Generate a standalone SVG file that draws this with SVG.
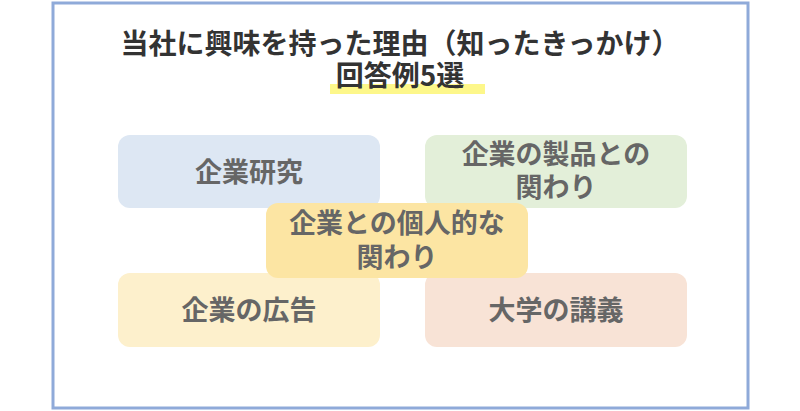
<svg xmlns="http://www.w3.org/2000/svg" width="800" height="411" viewBox="0 0 800 411">
<style>
.t{font-family:"Noto Sans CJK JP","Noto Sans",sans-serif;font-weight:bold;fill:#333;font-size:28px;text-anchor:middle}
.n{font-family:"Noto Sans CJK JP","Noto Sans",sans-serif;font-weight:bold;fill:#666;font-size:27px;text-anchor:middle}
</style>
<rect x="0" y="0" width="800" height="411" fill="#fff"/>
<rect x="53" y="3" width="695" height="405" fill="#fff" stroke="#8faad9" stroke-width="3"/>
<rect x="330" y="84" width="155" height="10" fill="#fdf78a"/>
<text class="t" x="400" y="54">当社に興味を持った理由（知ったきっかけ）</text>
<text class="t" x="400" y="86">回答例5選</text>
<g id="n1"><rect x="118" y="135" width="262" height="73" rx="12" fill="#dde7f3"/><text class="n" x="249" y="182">企業研究</text></g>
<g id="n2"><rect x="425" y="135" width="262" height="73" rx="12" fill="#e3efd9"/><text class="n" x="556" y="164">企業の製品との</text><text class="n" x="556" y="197">関わり</text></g>
<g id="n4"><rect x="118" y="273" width="262" height="74" rx="12" fill="#fdf0cc"/><text class="n" x="249" y="320">企業の広告</text></g>
<g id="n5"><rect x="425" y="273" width="262" height="74" rx="12" fill="#f8e3d6"/><text class="n" x="556" y="320">大学の講義</text></g>
<g id="n3"><rect x="266" y="203" width="262" height="75" rx="12" fill="#fce5a3"/><text class="n" x="397" y="233">企業との個人的な</text><text class="n" x="397" y="267">関わり</text></g>
<g id="connectors"></g>
</svg>
